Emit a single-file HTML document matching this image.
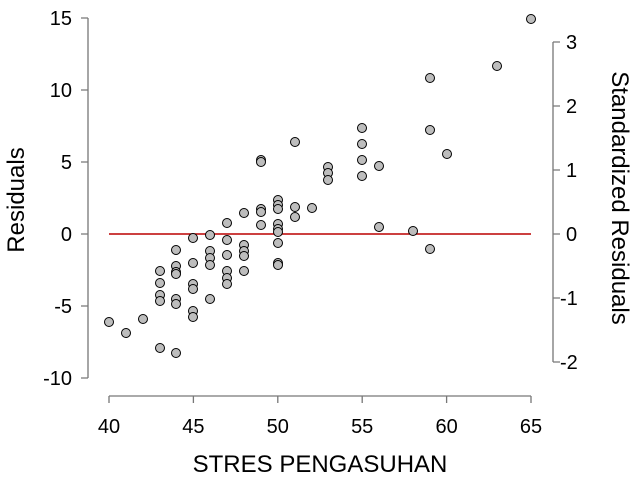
<!DOCTYPE html>
<html><head><style>body{margin:0;background:#fff}svg{display:block}</style></head><body>
<svg width="635" height="479" xmlns="http://www.w3.org/2000/svg" font-family="Liberation Sans, sans-serif">
<g stroke="#777" stroke-width="1.3" fill="none">
<path d="M88,18V378M81,18H88M81,90H88M81,162H88M81,234H88M81,306H88M81,378H88"/>
<path d="M109,396H531M109,396V403M193.4,396V403M277.8,396V403M362.2,396V403M446.6,396V403M531,396V403"/>
<path d="M553,42V362M553,42H560M553,106H560M553,170H560M553,234H560M553,298H560M553,362H560"/>
</g>
<g font-size="20" fill="#000" text-anchor="end">
<text x="72" y="25">15</text><text x="72" y="97">10</text><text x="72" y="169">5</text><text x="72" y="241">0</text><text x="72" y="313">-5</text><text x="72" y="385">-10</text>
</g>
<g font-size="20" fill="#000" text-anchor="start">
<text x="566" y="49">3</text><text x="566" y="113">2</text><text x="566" y="177">1</text><text x="566" y="241">0</text><text x="560" y="305">-1</text><text x="560" y="369">-2</text>
</g>
<g font-size="20" fill="#000" text-anchor="middle">
<text x="109" y="433">40</text><text x="193.4" y="433">45</text><text x="277.8" y="433">50</text><text x="362.2" y="433">55</text><text x="446.6" y="433">60</text><text x="531" y="433">65</text>
</g>
<text x="320" y="472" font-size="24" text-anchor="middle">STRES PENGASUHAN</text>
<text transform="translate(24,200) rotate(-90)" font-size="24" text-anchor="middle">Residuals</text>
<text transform="translate(612,198) rotate(90)" font-size="24" text-anchor="middle">Standardized Residuals</text>
<line x1="109" y1="234" x2="531" y2="234" stroke="#b00" stroke-width="1.5"/>
<g fill="#bdbdbd" stroke="#000" stroke-width="1">
<circle cx="109" cy="322" r="4.5"/><circle cx="126" cy="333" r="4.5"/><circle cx="143" cy="319" r="4.5"/>
<circle cx="160" cy="271" r="4.5"/><circle cx="160" cy="283" r="4.5"/><circle cx="160" cy="295" r="4.5"/><circle cx="160" cy="301" r="4.5"/><circle cx="160" cy="348" r="4.5"/>
<circle cx="176" cy="250" r="4.5"/><circle cx="176" cy="266" r="4.5"/><circle cx="176" cy="272" r="4.5"/><circle cx="176" cy="274" r="4.5"/><circle cx="176" cy="299" r="4.5"/><circle cx="176" cy="304" r="4.5"/><circle cx="176" cy="353" r="4.5"/>
<circle cx="193" cy="238" r="4.5"/><circle cx="193" cy="263" r="4.5"/><circle cx="193" cy="284" r="4.5"/><circle cx="193" cy="289" r="4.5"/><circle cx="193" cy="311" r="4.5"/><circle cx="193" cy="317" r="4.5"/>
<circle cx="210" cy="235" r="4.5"/><circle cx="210" cy="251" r="4.5"/><circle cx="210" cy="258" r="4.5"/><circle cx="210" cy="265" r="4.5"/><circle cx="210" cy="299" r="4.5"/>
<circle cx="227" cy="223" r="4.5"/><circle cx="227" cy="240" r="4.5"/><circle cx="227" cy="255" r="4.5"/><circle cx="227" cy="271" r="4.5"/><circle cx="227" cy="278" r="4.5"/><circle cx="227" cy="284" r="4.5"/>
<circle cx="244" cy="213" r="4.5"/><circle cx="244" cy="245" r="4.5"/><circle cx="244" cy="251" r="4.5"/><circle cx="244" cy="256" r="4.5"/><circle cx="244" cy="271" r="4.5"/>
<circle cx="261" cy="160" r="4.5"/><circle cx="261" cy="162" r="4.5"/><circle cx="261" cy="209" r="4.5"/><circle cx="261" cy="212" r="4.5"/><circle cx="261" cy="225" r="4.5"/>
<circle cx="278" cy="200" r="4.5"/><circle cx="278" cy="205" r="4.5"/><circle cx="278" cy="209" r="4.5"/><circle cx="278" cy="224" r="4.5"/><circle cx="278" cy="229" r="4.5"/><circle cx="278" cy="232" r="4.5"/><circle cx="278" cy="243" r="4.5"/><circle cx="278" cy="263" r="4.5"/><circle cx="278" cy="265" r="4.5"/>
<circle cx="295" cy="142" r="4.5"/><circle cx="295" cy="207" r="4.5"/><circle cx="295" cy="217" r="4.5"/>
<circle cx="312" cy="208" r="4.5"/>
<circle cx="328" cy="167" r="4.5"/><circle cx="328" cy="173" r="4.5"/><circle cx="328" cy="180" r="4.5"/>
<circle cx="362" cy="128" r="4.5"/><circle cx="362" cy="144" r="4.5"/><circle cx="362" cy="160" r="4.5"/><circle cx="362" cy="176" r="4.5"/>
<circle cx="379" cy="166" r="4.5"/><circle cx="379" cy="227" r="4.5"/>
<circle cx="413" cy="231" r="4.5"/>
<circle cx="430" cy="78" r="4.5"/><circle cx="430" cy="130" r="4.5"/><circle cx="430" cy="249" r="4.5"/>
<circle cx="447" cy="154" r="4.5"/>
<circle cx="497" cy="66" r="4.5"/>
<circle cx="531" cy="19" r="4.5"/>
</g>
</svg>
</body></html>
